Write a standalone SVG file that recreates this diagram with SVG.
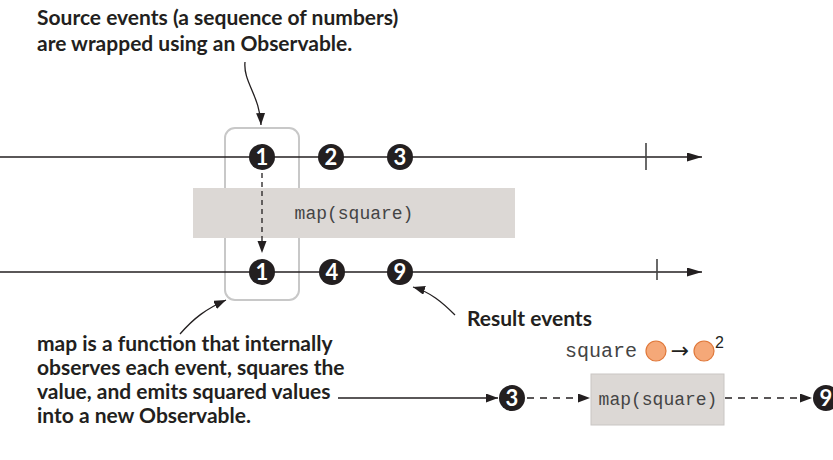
<svg xmlns="http://www.w3.org/2000/svg" width="833" height="460" viewBox="0 0 833 460">
<style>
  .lbl{font-family:Lato,"Open Sans",sans-serif;font-weight:bold;font-size:21px;fill:#231f20}
  .num{font-family:Lato,"Open Sans",sans-serif;font-weight:bold;font-size:22px;fill:#fff;text-anchor:middle}
  .mono{font-family:"Liberation Mono",monospace;fill:#444}
  .marble{fill:#231f20}
  .tl{stroke:#231f20;stroke-width:1.4;fill:none}
  .tick{stroke:#444;stroke-width:1.6}
  .conn{stroke:#231f20;stroke-width:1.3;fill:none}
  .box{fill:#dcd8d5}
  .orange{fill:#f5a878;stroke:#e0783a;stroke-width:1.2}
</style>
<defs>
  <marker id="bigArrow" markerUnits="userSpaceOnUse" markerWidth="16" markerHeight="10" refX="15" refY="4.5" orient="auto">
    <path d="M0,0 L15,4.5 L0,9 z" fill="#231f20"/>
  </marker>
  <marker id="arrow" markerUnits="userSpaceOnUse" markerWidth="13" markerHeight="10" refX="12" refY="4.5" orient="auto">
    <path d="M0,0 L12,4.5 L0,9 z" fill="#231f20"/>
  </marker>
</defs>

<g id="observable-window">
  <rect x="225" y="128" width="74" height="172" rx="10" ry="10" fill="none" stroke="#c8c8c8" stroke-width="2"/>
</g>

<g id="map-operator">
  <rect class="box" x="193" y="188" width="322" height="50"/>
  <text class="mono" x="354" y="219" font-size="18" text-anchor="middle">map(square)</text>
</g>

<g id="detail-map">
  <rect class="box" x="591" y="374" width="133" height="51" stroke="#c9c6c3" stroke-width="1"/>
  <text class="mono" x="658" y="405" font-size="18" text-anchor="middle">map(square)</text>
</g>

<g id="connectors">
  <line class="tl" x1="0" y1="157" x2="702" y2="157" marker-end="url(#bigArrow)"/>
  <line class="tick" x1="646" y1="143" x2="646" y2="170"/>
  <line class="tl" x1="0" y1="272" x2="702" y2="272" marker-end="url(#bigArrow)"/>
  <line class="tick" x1="657" y1="259" x2="657" y2="280"/>
  <line class="conn" x1="262" y1="173" x2="262" y2="253" stroke-dasharray="5 4" marker-end="url(#arrow)"/>
  <path class="conn" d="M245,62 C243,82 260,96 261,125" marker-end="url(#arrow)"/>
  <path class="conn" d="M180,334 C194,318 206,309 226,300" marker-end="url(#arrow)"/>
  <path class="conn" d="M455,315 C442,302 430,292 413,287" marker-end="url(#arrow)"/>
  <line class="conn" x1="338" y1="398" x2="498" y2="398" marker-end="url(#arrow)"/>
  <line class="conn" x1="527" y1="398" x2="590" y2="398" stroke-dasharray="7 6" marker-end="url(#arrow)"/>
  <line class="conn" x1="725" y1="398" x2="812" y2="398" stroke-dasharray="7 6" marker-end="url(#arrow)"/>
</g>

<g id="source-1"><circle class="marble" cx="262" cy="157" r="13"/><text class="num" x="262" y="165">1</text></g>
<g id="source-2"><circle class="marble" cx="331" cy="157" r="13"/><text class="num" x="331" y="165">2</text></g>
<g id="source-3"><circle class="marble" cx="400" cy="157" r="13"/><text class="num" x="400" y="165">3</text></g>

<g id="result-1"><circle class="marble" cx="262" cy="272" r="13"/><text class="num" x="262" y="280">1</text></g>
<g id="result-4"><circle class="marble" cx="332" cy="272" r="13"/><text class="num" x="332" y="280">4</text></g>
<g id="result-9"><circle class="marble" cx="400" cy="272" r="13"/><text class="num" x="400" y="280">9</text></g>

<g id="source-label">
  <text class="lbl" x="37" y="25" font-size="21.5">Source events (a sequence of numbers)</text>
  <text class="lbl" x="37" y="51" font-size="21.5">are wrapped using an Observable.</text>
</g>

<g id="result-label">
  <text class="lbl" x="467" y="326" font-size="20">Result events</text>
</g>

<g id="map-label">
  <text class="lbl" x="37" y="351">map is a function that internally</text>
  <text class="lbl" x="37" y="375">observes each event, squares the</text>
  <text class="lbl" x="37" y="399">value, and emits squared values</text>
  <text class="lbl" x="37" y="423">into a new Observable.</text>
</g>

<g id="detail-input-3"><circle class="marble" cx="512" cy="398" r="13"/><text class="num" x="512" y="406">3</text></g>

<g id="detail-output-9"><circle class="marble" cx="826" cy="398" r="13"/><text class="num" x="826" y="406">9</text></g>

<g id="square-legend">
  <text class="mono" x="565" y="357" font-size="20">square</text>
  <circle class="orange" cx="656" cy="351" r="10"/>
  <text x="680" y="358" font-family="DejaVu Sans,sans-serif" font-size="22" text-anchor="middle" fill="#231f20">→</text>
  <circle class="orange" cx="704" cy="351" r="10"/>
  <text x="715" y="348" font-family="Liberation Sans,sans-serif" font-size="16" fill="#231f20">2</text>
</g>
</svg>
